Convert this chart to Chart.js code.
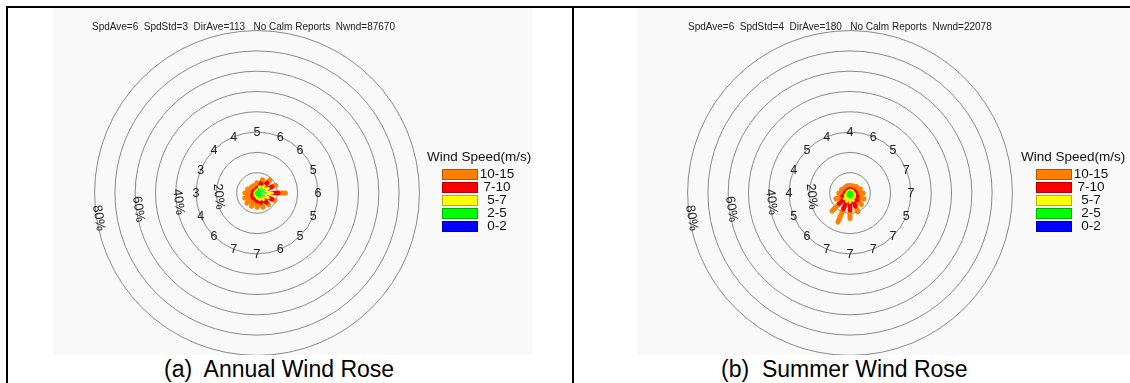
<!DOCTYPE html>
<html>
<head>
<meta charset="utf-8">
<script src="https://cdn.jsdelivr.net/npm/chart.js@4.4.0/dist/chart.umd.min.js"></script>
<style>
  body { margin: 0; width: 1130px; height: 383px; background: #fff; position: relative; overflow: hidden;
         font-family: Arial, "Liberation Sans", sans-serif; color: #111; }
  .rule { position: absolute; background: #000; }
  .panel { position: absolute; top: 8px; height: 347px; background: #f9f9f9; }
  .panel canvas { display: block; }
  .stats { position: absolute; top: 20px; font-size: 10px; line-height: 13px; color: #222; white-space: pre; }
  .legend { position: absolute; top: 149px; width: 112px; }
  .legend .ttl { font-size: 13.5px; line-height: 16px; white-space: nowrap; }
  .legend .row { position: relative; height: 13px; }
  .legend .box { position: absolute; left: 15px; top: 1px; width: 34px; height: 9px; border: 1px solid rgba(0,0,0,0.3); }
  .legend .lab { position: absolute; left: 50px; width: 40px; top: -1px; text-align: center; font-size: 13.5px; line-height: 13px; }
  .caption { position: absolute; top: 355px; font-size: 23px; line-height: 28px; white-space: pre; color: #000; }
</style>
</head>
<body>
<div class="rule" style="left:6px;top:6px;width:1124px;height:2px"></div>
<div class="rule" style="left:6px;top:6px;width:2px;height:377px"></div>
<div class="rule" style="left:572px;top:6px;width:2px;height:377px"></div>

<div class="panel" style="left:53px;width:480px"><canvas id="annual" width="480" height="347"></canvas></div>
<div class="panel" style="left:637px;width:493px"><canvas id="summer" width="493" height="347"></canvas></div>

<div class="stats" style="left:92px">SpdAve=6  SpdStd=3  DirAve=113   No Calm Reports  Nwnd=87670</div>
<div class="stats" style="left:688px">SpdAve=6  SpdStd=4  DirAve=180   No Calm Reports  Nwnd=22078</div>

<div class="legend" id="legA" style="left:427px"></div>
<div class="legend" id="legB" style="left:1021px"></div>

<div class="caption" style="left:164px">(a)  Annual Wind Rose</div>
<div class="caption" style="left:721px">(b)  Summer Wind Rose</div>

<script>
// compass directions (deg, clockwise from north)
const directions = [0, 22.5, 45, 67.5, 90, 112.5, 135, 157.5, 180, 202.5, 225, 247.5, 270, 292.5, 315, 337.5];
const speedBins = ['0-2', '2-5', '5-7', '7-10', '10-15'];
const ringTicks = [10, 20, 30, 40, 50, 60, 70, 80];
const ringLabels = [20, 40, 60, 80];
const dirLabelRing = 30;

// annual rose, percent of records per direction and speed bin
const annualBlue   = [0, 0, 0, 0, 0, 0, 0, 0, 0, 0, 0, 0, 0, 0, 0, 0];
const annualGreen  = [1.0, 2.5, 3.5, 4.0, 4.5, 4.0, 3.0, 2.5, 1.5, 1.0, 1.0, 0.5, 0.5, 0.5, 0.5, 0.5];
const annualYellow = [0.5, 1.0, 1.5, 2.0, 3.0, 2.0, 1.5, 1.0, 1.0, 0.5, 0.5, 0.5, 0.5, 0.5, 0.5, 0.5];
const annualRed    = [1.0, 1.5, 2.0, 2.0, 3.0, 2.0, 2.0, 1.5, 1.5, 1.5, 1.5, 1.5, 1.0, 1.0, 0.5, 0.5];
const annualOrange = [2.5, 2.0, 2.0, 2.0, 3.5, 1.5, 1.5, 2.5, 3.0, 4.0, 4.0, 4.0, 4.0, 3.0, 2.5, 2.5];
const annualDirSpeed = [5, 6, 6, 5, 6, 5, 5, 6, 7, 7, 6, 4, 3, 3, 4, 4];

// summer rose
const summerBlue   = [0, 0, 0, 0, 0, 0, 0, 0, 0, 0, 0, 0, 0, 0, 0, 0];
const summerGreen  = [1.0, 1.0, 1.0, 1.0, 1.5, 1.5, 2.0, 2.5, 2.5, 2.5, 2.0, 1.5, 1.0, 1.0, 1.0, 1.0];
const summerYellow = [0.3, 0.3, 0.5, 0.5, 0.5, 1.0, 1.0, 1.5, 2.0, 2.0, 2.0, 1.0, 0.5, 0.5, 0.3, 0.3];
const summerRed    = [0.5, 0.5, 0.5, 1.0, 1.0, 1.5, 2.0, 3.0, 4.0, 4.0, 3.5, 1.5, 1.0, 0.5, 0.5, 0.5];
const summerOrange = [2.0, 2.0, 2.5, 3.0, 3.5, 3.5, 3.0, 3.0, 4.0, 7.0, 5.0, 3.5, 3.0, 2.5, 2.0, 2.0];
const summerDirSpeed = [4, 6, 5, 7, 7, 5, 7, 7, 7, 7, 6, 5, 4, 4, 5, 4];

const binColors = ['#0000ff', '#00ff00', '#ffff00', '#ff0000', '#ff8000'];
const binWidths = [1.5, 1.5, 3, 4.5, 5];
const PX_PER_PCT = 2.03;

// rings, % labels and per-direction numbers
const roseGrid = {
  id: 'roseGrid',
  beforeDatasetsDraw(chart, args, opts) {
    const { ctx, scales: { x, y } } = chart;
    const cx = x.getPixelForValue(0), cy = y.getPixelForValue(0);
    ctx.save();
    ctx.strokeStyle = '#8a8a8a';
    ctx.lineWidth = 1;
    ringTicks.forEach(v => {
      ctx.beginPath();
      ctx.arc(cx, cy, x.getPixelForValue(v) - cx, 0, Math.PI * 2);
      ctx.stroke();
    });
    ctx.fillStyle = '#222';
    ctx.textAlign = 'center';
    ctx.textBaseline = 'middle';
    ctx.font = '13px Arial, "Liberation Sans", sans-serif';
    ringLabels.forEach(p => {
      const off = (4 + p / 16) * Math.PI / 180;
      const a = 1.5 * Math.PI - off;
      const r = p - 1;
      ctx.save();
      ctx.translate(x.getPixelForValue(r * Math.sin(a)), y.getPixelForValue(r * Math.cos(a)));
      ctx.rotate(Math.PI / 2 - off);
      ctx.fillText(p + '%', 0, 0);
      ctx.restore();
    });
    ctx.font = '12.5px Arial, "Liberation Sans", sans-serif';
    directions.forEach((d, i) => {
      const a = d * Math.PI / 180;
      ctx.fillText(String(opts.dirSpeed[i]),
        x.getPixelForValue(dirLabelRing * Math.sin(a)),
        y.getPixelForValue(dirLabelRing * Math.cos(a)) + 0.5);
    });
    ctx.restore();
  }
};

function roseDatasets(bins) {
  const sets = [];
  directions.forEach((d, i) => {
    const a = d * Math.PI / 180;
    let r0 = 0;
    bins.forEach((vals, b) => {
      const r1 = r0 + vals[i];
      if (vals[i] > 0) {
        sets.push({
          data: [{ x: r0 * Math.sin(a), y: r0 * Math.cos(a) }, { x: r1 * Math.sin(a), y: r1 * Math.cos(a) }],
          showLine: true,
          borderColor: binColors[b],
          borderWidth: binWidths[b],
          borderCapStyle: 'round',
          pointRadius: 0,
          order: b,
          clip: false
        });
      }
      r0 = r1;
    });
  });
  return sets;
}

function buildRose(id, centre, bins, dirSpeed) {
  const cv = document.getElementById(id);
  const w = cv.width, h = cv.height;
  new Chart(cv, {
    type: 'scatter',
    data: { datasets: roseDatasets(bins) },
    options: {
      responsive: false,
      animation: false,
      events: [],
      layout: { padding: 0 },
      plugins: { legend: { display: false }, tooltip: { enabled: false }, roseGrid: { dirSpeed } },
      scales: {
        x: { type: 'linear', display: false, min: -centre[0] / PX_PER_PCT, max: (w - centre[0]) / PX_PER_PCT },
        y: { type: 'linear', display: false, min: -(h - centre[1]) / PX_PER_PCT, max: centre[1] / PX_PER_PCT }
      }
    },
    plugins: [roseGrid]
  });
}

function buildLegend(id) {
  const el = document.getElementById(id);
  let html = '<div class="ttl">Wind Speed(m/s)</div><div style="height:3px"></div>';
  for (let b = speedBins.length - 1; b >= 0; b--) {
    html += '<div class="row"><div class="box" style="background:' + binColors[b] + '"></div>' +
            '<div class="lab">' + speedBins[b] + '</div></div>';
  }
  el.innerHTML = html;
}

buildRose('annual', [204, 185], [annualBlue, annualGreen, annualYellow, annualRed, annualOrange], annualDirSpeed);
buildRose('summer', [213, 185], [summerBlue, summerGreen, summerYellow, summerRed, summerOrange], summerDirSpeed);
buildLegend('legA');
buildLegend('legB');
</script>
</body>
</html>
